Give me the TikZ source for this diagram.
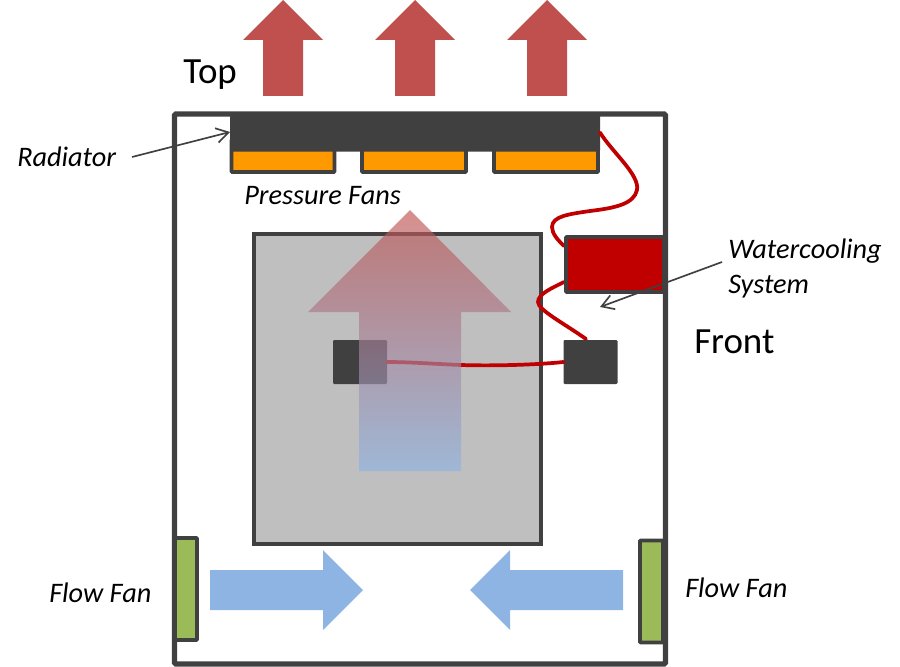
\documentclass[tikz,border=0pt]{standalone}
\usepackage{fontspec}
\setmainfont{Carlito}
\usetikzlibrary{arrows.meta}
\definecolor{dk}{HTML}{404040}
\definecolor{hot}{HTML}{C0504D}
\definecolor{cool}{HTML}{8EB4E3}
\definecolor{wire}{HTML}{C00000}
\definecolor{fan}{HTML}{FF9900}
\definecolor{flow}{HTML}{9BBB59}
\tikzset{
  x=0.75pt,y=-0.75pt,
  part/.style={draw=dk,line width=2.9pt,inner sep=0pt,outer sep=0pt,rounded corners=0.6pt},
  solid part/.style={fill=dk,draw=none,inner sep=0pt,outer sep=0pt,rounded corners=0.8pt},
  pipe/.style={draw=wire,line width=2.8pt,line cap=round},
  pointer/.style={draw=dk,line width=1.25pt,-{Straight Barb[length=9pt,width=11pt,line width=1.25pt]}},
  big label/.style={font=\fontsize{27.7}{32}\selectfont,inner sep=0pt,anchor=west},
  small label/.style={font=\fontsize{21.2}{25}\selectfont\itshape,inner sep=0pt,anchor=west},
  hot arrow/.style={fill=hot,draw=none},
  cool arrow/.style={fill=cool,draw=none},
}
\begin{document}
\begin{tikzpicture}
\useasboundingbox (0,0) rectangle (900,667);
% exhaust arrows
\foreach \c in {283,415,547}{
  \path[hot arrow] (\c,0) -- (\c+40,40) -- (\c+20,40) -- (\c+20,96) -- (\c-20,96) -- (\c-20,40) -- (\c-40,40) -- cycle;
}
% casing
\node[draw=dk,line width=4pt,inner sep=0pt,outer sep=0pt,rounded corners=1pt,minimum width=0.75*491pt,minimum height=0.75*550pt] (casing) at (420,389) {};
% fans
\node[part,fill=fan,minimum width=0.75*103pt,minimum height=0.75*32pt] (fanA) at (283,156) {};
\node[part,fill=fan,minimum width=0.75*104pt,minimum height=0.75*32pt] (fanB) at (414,156) {};
\node[part,fill=fan,minimum width=0.75*104pt,minimum height=0.75*32pt] (fanC) at (546,156) {};
% radiator
\node[solid part,minimum width=0.75*370pt,minimum height=0.75*38pt] (radiator) at (415,132.5) {};
% motherboard
\node[draw=dk,line width=2.9pt,fill=black!25,inner sep=0pt,outer sep=0pt,minimum width=0.75*287pt,minimum height=0.75*310pt] (board) at (397.5,389) {};
% chips
\node[solid part,minimum width=0.75*54pt,minimum height=0.75*44pt] (chipL) at (360,362) {};
\node[solid part,minimum width=0.75*54pt,minimum height=0.75*44pt] (chipR) at (590.5,362) {};
% tubes
\coordinate (pumpIn) at (564,246);
\coordinate (pumpOut) at (564,282);
\draw[pipe] (radiator.east) .. controls (612,152) and (640,175) .. (637,190)
  .. controls (634,204) and (615,208) .. (590,211)
  .. controls (570,214) and (552,216) .. (552,227)
  .. controls (552,234) and (558,240) .. (pumpIn);
\draw[pipe] (pumpOut) .. controls (552,288) and (538,294) .. (538,302)
  .. controls (538,310) and (565,324) .. (586,339);
\draw[pipe] (chipR.west) .. controls (535,365) and (490,366) .. (461,365)
  .. controls (435,364) and (410,362) .. (chipL.east);
% watercooling unit
\node[part,fill=wire,minimum width=0.75*98pt,minimum height=0.75*55pt] (pump) at (615,264.5) {};
% flow fans
\node[part,fill=flow,minimum width=0.75*22pt,minimum height=0.75*102pt] (flowL) at (186,589) {};
\node[part,fill=flow,minimum width=0.75*23pt,minimum height=0.75*102pt] (flowR) at (651.5,591.5) {};
% blue arrows
\path[cool arrow] (210,570) -- (323,570) -- (323,550) -- (363,590) -- (323,630) -- (323,610) -- (210,610) -- cycle;
\path[cool arrow] (623,570) -- (510,570) -- (510,550) -- (470,590) -- (510,630) -- (510,610) -- (623,610) -- cycle;
% big airflow arrow
\path[top color=hot,bottom color=cool,opacity=0.65,draw=none] (410,210) -- (511,312) -- (461,312) -- (461,471) -- (359,471) -- (359,312) -- (308,312) -- cycle;
% pointers
\coordinate (radTail) at (132,157);
\coordinate (radTip) at (230,132);
\coordinate (wcTail) at (722,262);
\coordinate (wcTip) at (600,307);
\draw[pointer] (radTail) -- (radTip);
\draw[pointer] (wcTail) -- (wcTip);
% labels
\node[big label] (top) at (183,75) {Top};
\node[big label] (front) at (694,342) {Front};
\node[small label] (radL) at (17,157) {Radiator};
\node[small label] (pf) at (244,196) {Pressure Fans};
\node[small label] (wc) at (728,251) {Watercooling};
\node[small label] (sys) at (728,287) {System};
\node[small label] (ffL) at (49,593) {Flow Fan};
\node[small label] (ffR) at (685,588) {Flow Fan};
\end{tikzpicture}
\end{document}
